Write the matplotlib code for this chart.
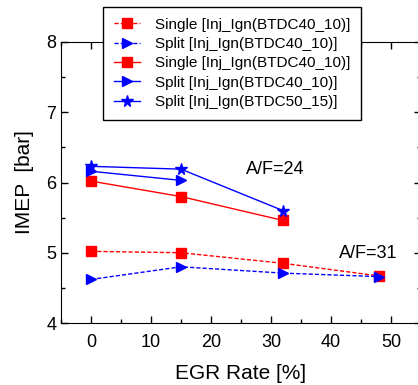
import numpy as np
import matplotlib.pyplot as plt
from matplotlib.ticker import MultipleLocator

plt.rcParams['font.family'] = ['Liberation Sans', 'DejaVu Sans']

# data
egr_31 = [0, 15, 32, 48]
single_31 = [5.02, 5.00, 4.85, 4.67]
split_31 = [4.62, 4.80, 4.71, 4.66]

egr_24 = [0, 15, 32]
single_24 = [6.02, 5.80, 5.46]
egr_split24 = [0, 15]
split_24 = [6.16, 6.03]
split_50_15 = [6.23, 6.19, 5.60]

labels = ['Single [Inj_Ign(BTDC40_10)]',
          'Split [Inj_Ign(BTDC40_10)]',
          'Single [Inj_Ign(BTDC40_10)]',
          'Split [Inj_Ign(BTDC40_10)]',
          'Split [Inj_Ign(BTDC50_15)]']

fig = plt.figure(figsize=(4.18, 3.85), dpi=100)
ax = fig.add_axes([61/418, 62/385, 360/418, 281/385])

dash = (0, (3, 1.5))
ax.plot(egr_31, single_31, color='red', ls=dash, lw=1, marker='s', ms=6.5, label=labels[0])
ax.plot(egr_31, split_31, color='blue', ls=dash, lw=1, marker='>', ms=7.5, label=labels[1])
ax.plot(egr_24, single_24, color='red', ls='-', lw=1, marker='s', ms=6.5, label=labels[2])
ax.plot(egr_split24, split_24, color='blue', ls='-', lw=1, marker='>', ms=7.5, label=labels[3])
ax.plot(egr_24, split_50_15, color='blue', ls='-', lw=1, marker='*', ms=8.5, label=labels[4])

# annotations placed in pixel coords (origin bottom-left)
ax.text(275, 385 - 169, 'A/F=24', transform=None, fontsize=13, ha='center', va='center')
ax.text(368, 385 - 253, 'A/F=31', transform=None, fontsize=13, ha='center', va='center')

ax.set_xlim(-5, 55)
ax.set_ylim(4, 8)
ax.xaxis.set_major_locator(MultipleLocator(10))
ax.xaxis.set_minor_locator(MultipleLocator(5))
ax.yaxis.set_major_locator(MultipleLocator(1))
ax.yaxis.set_minor_locator(MultipleLocator(0.5))
ax.tick_params(which='both', direction='in', top=True, right=True, labelsize=13, width=1)
ax.tick_params(which='major', length=5)
ax.tick_params(which='minor', length=3)
ax.tick_params(axis='x', pad=8)
ax.set_xlabel('EGR Rate [%]', fontsize=15, labelpad=9)
ax.set_ylabel('IMEP  [bar]', fontsize=15, labelpad=9)

leg = ax.legend(loc='upper left', bbox_to_anchor=(103/418, 1-7/385), bbox_transform=fig.transFigure,
                borderaxespad=0, fontsize=11, handlelength=1.7, fancybox=False,
                framealpha=1, edgecolor='black', labelspacing=0.35, handletextpad=1.0,
                borderpad=0.7)
leg.get_frame().set_linewidth(1)

fig.savefig('out.png', dpi=100)
